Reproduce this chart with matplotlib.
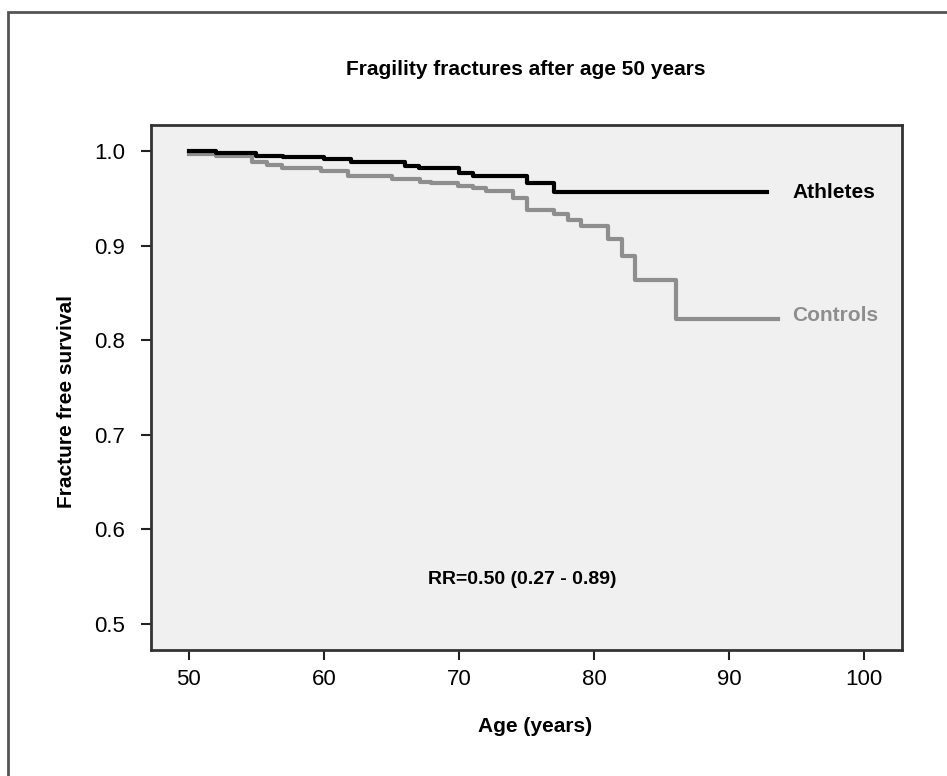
import numpy as np
import matplotlib
matplotlib.use('Agg')
from matplotlib import pyplot as plt
from matplotlib.patches import Rectangle

plt.rcParams['font.family'] = ['Liberation Sans Narrow', 'Liberation Sans', 'DejaVu Sans']

# Kaplan-Meier step data (age at step, survival after step)
athl_age = [50, 52, 55, 57, 60, 62, 66, 67, 70, 71, 75, 77, 92.8]
athl_surv = [1.0, 0.998, 0.995, 0.994, 0.992, 0.989, 0.985, 0.982, 0.977, 0.974, 0.967, 0.957, 0.957]

ctrl_age = [50, 52, 54.7, 55.8, 56.9, 59.8, 61.8, 65, 67.1, 67.9, 69.9, 71, 72, 74, 75,
            77, 78.1, 79, 81, 82.1, 83, 86.1, 93.6]
ctrl_surv = [0.997, 0.995, 0.989, 0.986, 0.982, 0.979, 0.974, 0.971, 0.968, 0.967, 0.963,
             0.961, 0.958, 0.951, 0.938, 0.934, 0.928, 0.921, 0.907, 0.889, 0.864, 0.823, 0.823]

x_ticks = [50, 60, 70, 80, 90, 100]
y_ticks = [0.5, 0.6, 0.7, 0.8, 0.9, 1.0]

fig = plt.figure(figsize=(9.47, 7.76), dpi=100)
ax = fig.add_axes([0.159, 0.1624, 0.7935, 0.6765])
ax.set_facecolor('#f0f0f0')

ax.step(ctrl_age, ctrl_surv, where='post', color='#8e8e8e', linewidth=3.0)
ax.step(athl_age, athl_surv, where='post', color='black', linewidth=3.0)

ax.text(94.7, 0.957, 'Athletes', fontsize=15, fontweight='bold', va='center', ha='left')
ax.text(94.7, 0.826, 'Controls', fontsize=15, fontweight='bold', va='center', ha='left',
        color='#8e8e8e')
ax.text(67.7, 0.547, 'RR=0.50 (0.27 - 0.89)', fontsize=14, fontweight='bold', va='center', ha='left')

ax.set_xlim(47.16, 102.8)
ax.set_ylim(0.4725, 1.028)
ax.set_xticks(x_ticks)
ax.set_xticklabels([str(t) for t in x_ticks])
ax.set_yticks(y_ticks)
ax.set_yticklabels(['%.1f' % t for t in y_ticks])
ax.tick_params(labelsize=16, length=7.5, width=1.5, color='#222222')
ax.tick_params(axis='x', pad=6)
ax.tick_params(axis='y', pad=11)

for s in ax.spines.values():
    s.set_linewidth(2)
    s.set_color('#333333')

ax.set_xlabel('Age (years)', fontsize=15, fontweight='bold')
ax.xaxis.set_label_coords(0.5115, -0.128)
ax.set_ylabel('Fracture free survival', fontsize=15, fontweight='bold')
ax.yaxis.set_label_coords(-0.099, 0.473)
fig.text(0.555, 0.91, 'Fragility fractures after age 50 years', fontsize=15,
         fontweight='bold', ha='center', va='center')

# outer frame of the original figure
fig.patches.append(Rectangle((8 / 947, -0.05), 1.2, 1 - 12 / 776 + 0.05,
                             transform=fig.transFigure, fill=False,
                             edgecolor='#555555', linewidth=2))

fig.savefig('out.png', dpi=100)
